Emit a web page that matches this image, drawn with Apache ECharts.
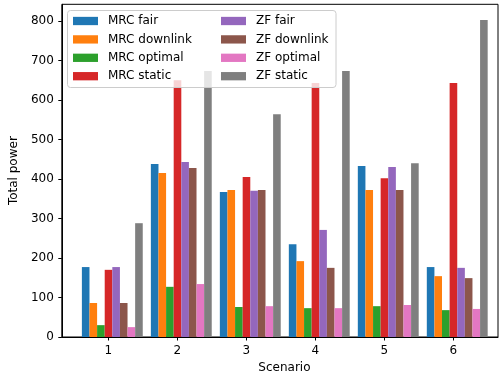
<!DOCTYPE html>
<html>
<head>
<meta charset="utf-8">
<script src="https://cdn.jsdelivr.net/npm/echarts@6/dist/echarts.min.js"></script>
<style>html,body{margin:0;padding:0;background:#fff}#c{width:503px;height:381px}</style>
</head>
<body>
<div id="c"></div>
<script>
const scenarios = [1, 2, 3, 4, 5, 6];
const seriesNames = ['MRC fair', 'MRC downlink', 'MRC optimal', 'MRC static', 'ZF fair', 'ZF downlink', 'ZF optimal', 'ZF static'];
const mrcFair     = [177, 438, 367, 235, 433, 177];
const mrcDownlink = [86, 415, 372, 192, 372, 154];
const mrcOptimal  = [30, 127, 76, 73, 78, 68];
const mrcStatic   = [170, 650, 405, 643, 402, 643];
const zfFair      = [177, 443, 370, 271, 430, 175];
const zfDownlink  = [86, 428, 372, 175, 372, 149];
const zfOptimal   = [25, 134, 78, 73, 81, 71];
const zfStatic    = [288, 673, 564, 673, 440, 802];
const yTicks = [0, 100, 200, 300, 400, 500, 600, 700, 800];
const colors = ['#1f77b4', '#ff7f0e', '#2ca02c', '#d62728', '#9467bd', '#8c564b', '#e377c2', '#7f7f7f'];

const allValues = [mrcFair, mrcDownlink, mrcOptimal, mrcStatic, zfFair, zfDownlink, zfOptimal, zfStatic];
const barW = 0.1103;
const startOff = -0.385;

const chart = echarts.init(document.getElementById('c'), null, {renderer: 'canvas'});
const font = 'DejaVu Sans';

const series = allValues.map((vals, k) => ({
  type: 'custom',
  name: seriesNames[k],
  itemStyle: {color: colors[k]},
  encode: {x: 0, y: 1},
  data: scenarios.map((s, i) => [s, vals[i]]),
  z: 2,
  renderItem: function (params, api) {
    const x0 = api.value(0) + startOff + k * barW;
    const p0 = api.coord([x0, 0]);
    const p1 = api.coord([x0 + barW, api.value(1)]);
    return {
      type: 'rect',
      shape: {x: p0[0], y: p1[1], width: p1[0] - p0[0], height: p0[1] - p1[1]},
      style: {fill: colors[k]}
    };
  }
}));

const legendCommon = {
  orient: 'vertical',
  itemWidth: 25,
  itemHeight: 8.3,
  itemGap: 4.4,
  icon: 'rect',
  selectedMode: false,
  z: 10,
  padding: 0,
  textStyle: {fontFamily: font, fontSize: 12, color: '#000', lineHeight: 14, padding: [0, 0, 0, 5]}
};

chart.setOption({
  animation: false,
  color: colors,
  textStyle: {fontFamily: font},
  grid: {left: 61, top: 4.3, width: 437, bottom: 44, show: true, borderColor: '#000', borderWidth: 1, backgroundColor: 'transparent'},
  legend: [
    Object.assign({}, legendCommon, {left: 73, top: 14, data: seriesNames.slice(0, 4)}),
    Object.assign({}, legendCommon, {left: 221, top: 14, data: seriesNames.slice(4)})
  ],
  graphic: [{
    type: 'rect', z: 9,
    shape: {x: 67.5, y: 10.5, width: 268.5, height: 77, r: 3},
    style: {fill: 'rgba(255,255,255,0.8)', stroke: '#cccccc', lineWidth: 1}
  }],
  xAxis: {
    type: 'value',
    min: 0.324,
    max: 6.647,
    name: 'Scenario',
    nameLocation: 'middle',
    nameGap: 25,
    nameTextStyle: {fontFamily: font, fontSize: 12, color: '#000', padding: [0, 0, 0, 9]},
    axisLine: {show: true, lineStyle: {color: '#000', width: 1}},
    axisTick: {show: true, inside: false, length: 3.5, lineStyle: {color: '#000'}, customValues: scenarios},
    axisLabel: {fontFamily: font, fontSize: 12, color: '#000', margin: 8, customValues: scenarios},
    splitLine: {show: false}
  },
  yAxis: {
    type: 'value',
    min: 0,
    max: 842,
    name: 'Total power',
    nameLocation: 'middle',
    nameGap: 32,
    nameTextStyle: {fontFamily: font, fontSize: 12, color: '#000'},
    axisLine: {show: true, lineStyle: {color: '#000', width: 1}},
    axisTick: {show: true, inside: false, length: 3.5, lineStyle: {color: '#000'}, customValues: yTicks},
    axisLabel: {fontFamily: font, fontSize: 12, color: '#000', margin: 8, customValues: yTicks},
    splitLine: {show: false}
  },
  series: series
});
</script>
</body>
</html>
